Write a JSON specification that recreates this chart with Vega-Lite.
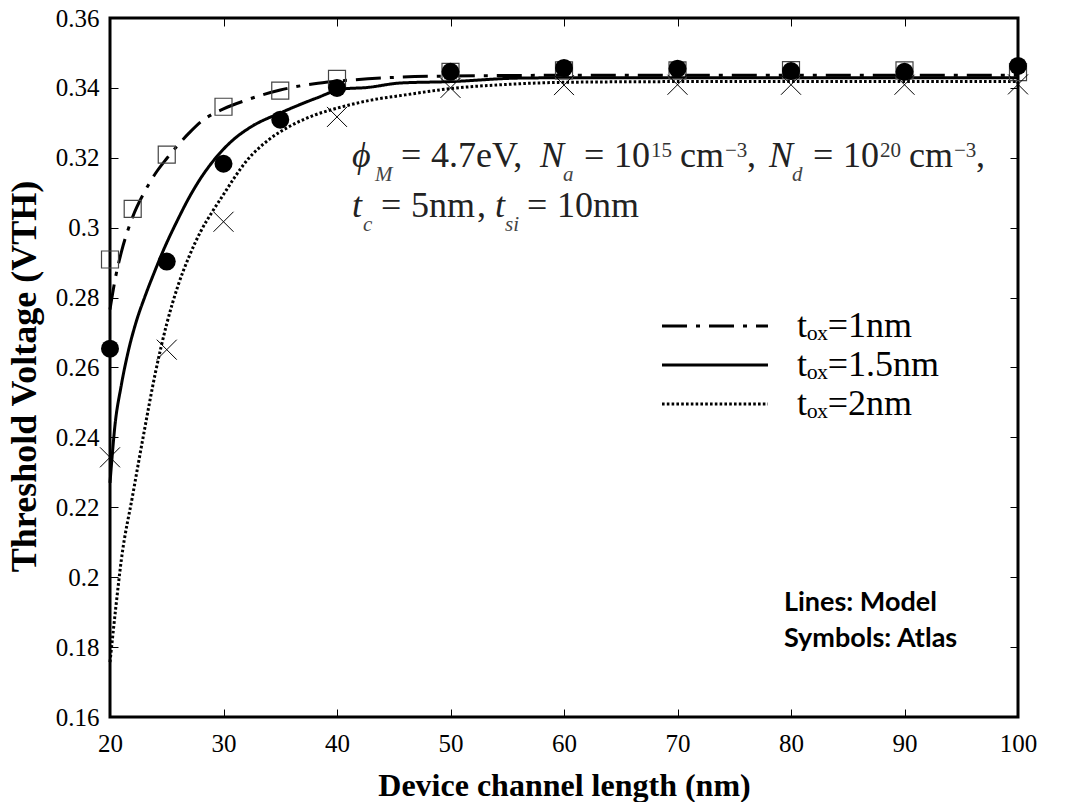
{
  "$schema": "https://vega.github.io/schema/vega-lite/v6.json",
  "width": 908,
  "height": 699,
  "autosize": {"type": "none"},
  "padding": {"left": 110, "top": 18, "right": 55, "bottom": 85},
  "background": "white",
  "config": {
    "view": {"stroke": "black", "strokeWidth": 3},
    "axis": {
      "domain": false,
      "grid": false,
      "tickSize": -8,
      "tickColor": "black",
      "tickWidth": 1,
      "labelFlush": false,
      "labelFont": "Liberation Serif",
      "labelFontSize": 25,
      "labelFontWeight": "normal",
      "labelColor": "black",
      "titleFont": "Liberation Serif",
      "titleFontSize": 32,
      "titleFontWeight": "bold",
      "titleColor": "black"
    }
  },
  "datasets": {
    "model": [
      {"L": 20, "V": 0.2766, "tox": "1nm"},
      {"L": 20.5, "V": 0.2860, "tox": "1nm"},
      {"L": 21, "V": 0.2930, "tox": "1nm"},
      {"L": 22, "V": 0.3031, "tox": "1nm"},
      {"L": 23, "V": 0.3100, "tox": "1nm"},
      {"L": 24, "V": 0.3155, "tox": "1nm"},
      {"L": 25, "V": 0.3198, "tox": "1nm"},
      {"L": 26, "V": 0.3237, "tox": "1nm"},
      {"L": 27, "V": 0.3272, "tox": "1nm"},
      {"L": 28, "V": 0.3303, "tox": "1nm"},
      {"L": 30, "V": 0.3340, "tox": "1nm"},
      {"L": 32, "V": 0.3365, "tox": "1nm"},
      {"L": 35, "V": 0.3394, "tox": "1nm"},
      {"L": 38, "V": 0.3412, "tox": "1nm"},
      {"L": 40, "V": 0.3419, "tox": "1nm"},
      {"L": 45, "V": 0.3430, "tox": "1nm"},
      {"L": 50, "V": 0.3434, "tox": "1nm"},
      {"L": 60, "V": 0.3436, "tox": "1nm"},
      {"L": 100, "V": 0.3436, "tox": "1nm"},
      {"L": 20, "V": 0.2270, "tox": "1.5nm"},
      {"L": 20.2, "V": 0.2350, "tox": "1.5nm"},
      {"L": 20.4, "V": 0.2423, "tox": "1.5nm"},
      {"L": 21, "V": 0.2550, "tox": "1.5nm"},
      {"L": 21.6, "V": 0.2645, "tox": "1.5nm"},
      {"L": 22.3, "V": 0.2730, "tox": "1.5nm"},
      {"L": 23.1, "V": 0.2805, "tox": "1.5nm"},
      {"L": 24, "V": 0.2880, "tox": "1.5nm"},
      {"L": 24.7, "V": 0.2935, "tox": "1.5nm"},
      {"L": 26, "V": 0.3025, "tox": "1.5nm"},
      {"L": 27, "V": 0.3088, "tox": "1.5nm"},
      {"L": 27.9, "V": 0.3137, "tox": "1.5nm"},
      {"L": 29.4, "V": 0.3203, "tox": "1.5nm"},
      {"L": 30.8, "V": 0.3250, "tox": "1.5nm"},
      {"L": 32.3, "V": 0.3286, "tox": "1.5nm"},
      {"L": 35.2, "V": 0.3331, "tox": "1.5nm"},
      {"L": 38.2, "V": 0.3371, "tox": "1.5nm"},
      {"L": 40.5, "V": 0.3397, "tox": "1.5nm"},
      {"L": 42.6, "V": 0.3401, "tox": "1.5nm"},
      {"L": 45.6, "V": 0.3414, "tox": "1.5nm"},
      {"L": 50, "V": 0.3418, "tox": "1.5nm"},
      {"L": 56, "V": 0.3428, "tox": "1.5nm"},
      {"L": 60, "V": 0.3429, "tox": "1.5nm"},
      {"L": 100, "V": 0.3429, "tox": "1.5nm"},
      {"L": 20, "V": 0.1757, "tox": "2nm"},
      {"L": 20.5, "V": 0.1910, "tox": "2nm"},
      {"L": 21, "V": 0.2050, "tox": "2nm"},
      {"L": 22, "V": 0.2235, "tox": "2nm"},
      {"L": 23, "V": 0.2415, "tox": "2nm"},
      {"L": 24, "V": 0.2585, "tox": "2nm"},
      {"L": 25, "V": 0.2725, "tox": "2nm"},
      {"L": 26, "V": 0.2835, "tox": "2nm"},
      {"L": 27, "V": 0.2920, "tox": "2nm"},
      {"L": 28, "V": 0.2990, "tox": "2nm"},
      {"L": 29, "V": 0.3045, "tox": "2nm"},
      {"L": 30, "V": 0.3095, "tox": "2nm"},
      {"L": 31, "V": 0.3145, "tox": "2nm"},
      {"L": 32, "V": 0.3190, "tox": "2nm"},
      {"L": 34, "V": 0.3252, "tox": "2nm"},
      {"L": 36, "V": 0.3293, "tox": "2nm"},
      {"L": 38, "V": 0.3322, "tox": "2nm"},
      {"L": 40, "V": 0.3342, "tox": "2nm"},
      {"L": 43, "V": 0.3365, "tox": "2nm"},
      {"L": 46, "V": 0.3380, "tox": "2nm"},
      {"L": 50, "V": 0.3398, "tox": "2nm"},
      {"L": 55, "V": 0.3410, "tox": "2nm"},
      {"L": 60, "V": 0.3416, "tox": "2nm"},
      {"L": 70, "V": 0.3418, "tox": "2nm"},
      {"L": 100, "V": 0.3418, "tox": "2nm"}
    ],
    "atlas": [
      {"L": 20, "V": 0.2909, "tox": "1nm"},
      {"L": 22, "V": 0.3054, "tox": "1nm"},
      {"L": 25, "V": 0.3209, "tox": "1nm"},
      {"L": 30, "V": 0.3346, "tox": "1nm"},
      {"L": 35, "V": 0.3392, "tox": "1nm"},
      {"L": 40, "V": 0.3426, "tox": "1nm"},
      {"L": 50, "V": 0.3446, "tox": "1nm"},
      {"L": 60, "V": 0.3450, "tox": "1nm"},
      {"L": 70, "V": 0.3450, "tox": "1nm"},
      {"L": 80, "V": 0.3451, "tox": "1nm"},
      {"L": 90, "V": 0.3450, "tox": "1nm"},
      {"L": 100, "V": 0.3445, "tox": "1nm"},
      {"L": 20, "V": 0.2654, "tox": "1.5nm"},
      {"L": 25, "V": 0.2903, "tox": "1.5nm"},
      {"L": 30, "V": 0.3183, "tox": "1.5nm"},
      {"L": 35, "V": 0.3309, "tox": "1.5nm"},
      {"L": 40, "V": 0.3400, "tox": "1.5nm"},
      {"L": 50, "V": 0.3446, "tox": "1.5nm"},
      {"L": 60, "V": 0.3457, "tox": "1.5nm"},
      {"L": 70, "V": 0.3455, "tox": "1.5nm"},
      {"L": 80, "V": 0.3448, "tox": "1.5nm"},
      {"L": 90, "V": 0.3446, "tox": "1.5nm"},
      {"L": 100, "V": 0.3463, "tox": "1.5nm"},
      {"L": 20, "V": 0.2343, "tox": "2nm"},
      {"L": 25, "V": 0.2651, "tox": "2nm"},
      {"L": 30, "V": 0.3017, "tox": "2nm"},
      {"L": 40, "V": 0.3317, "tox": "2nm"},
      {"L": 50, "V": 0.3400, "tox": "2nm"},
      {"L": 60, "V": 0.3408, "tox": "2nm"},
      {"L": 70, "V": 0.3409, "tox": "2nm"},
      {"L": 80, "V": 0.3409, "tox": "2nm"},
      {"L": 90, "V": 0.3409, "tox": "2nm"},
      {"L": 100, "V": 0.3410, "tox": "2nm"}
    ],
    "notes": [
      {"L": 41.322, "V": 0.317429, "t": "ϕ", "role": "var"},
      {"L": 43.348, "V": 0.313429, "t": "M", "role": "sub"},
      {"L": 45.639, "V": 0.317429, "t": "=", "role": "txt"},
      {"L": 48.282, "V": 0.317429, "t": "4.7eV,", "role": "txt"},
      {"L": 57.885, "V": 0.317429, "t": "N", "role": "var"},
      {"L": 59.912, "V": 0.313429, "t": "a", "role": "sub"},
      {"L": 61.762, "V": 0.317429, "t": "=", "role": "txt"},
      {"L": 64.405, "V": 0.317429, "t": "10", "role": "txt"},
      {"L": 67.665, "V": 0.320286, "t": "15", "role": "sup"},
      {"L": 70.220, "V": 0.317429, "t": "cm", "role": "txt"},
      {"L": 74.185, "V": 0.320286, "t": "−3", "role": "sup"},
      {"L": 76.123, "V": 0.317429, "t": ",", "role": "txt"},
      {"L": 78.062, "V": 0.317429, "t": "N", "role": "var"},
      {"L": 80.088, "V": 0.313429, "t": "d", "role": "sub"},
      {"L": 81.938, "V": 0.317429, "t": "=", "role": "txt"},
      {"L": 84.581, "V": 0.317429, "t": "10", "role": "txt"},
      {"L": 87.841, "V": 0.320286, "t": "20", "role": "sup"},
      {"L": 90.396, "V": 0.317429, "t": "cm", "role": "txt"},
      {"L": 94.361, "V": 0.320286, "t": "−3", "role": "sup"},
      {"L": 96.300, "V": 0.317429, "t": ",", "role": "txt"},
      {"L": 41.322, "V": 0.303143, "t": "t", "role": "var"},
      {"L": 42.291, "V": 0.299143, "t": "c", "role": "sub"},
      {"L": 43.877, "V": 0.303143, "t": "=", "role": "txt"},
      {"L": 46.520, "V": 0.303143, "t": "5nm", "role": "txt"},
      {"L": 52.335, "V": 0.303143, "t": ",", "role": "txt"},
      {"L": 53.921, "V": 0.303143, "t": "t", "role": "var"},
      {"L": 54.802, "V": 0.299143, "t": "si", "role": "sub"},
      {"L": 56.740, "V": 0.303143, "t": "=", "role": "txt"},
      {"L": 59.383, "V": 0.303143, "t": "10nm", "role": "txt"}
    ],
    "caption": [
      {"L": 79.38, "V": 0.19029, "t": "Lines: Model"},
      {"L": 79.38, "V": 0.18, "t": "Symbols: Atlas"}
    ]
  },
  "resolve": {"axis": {"x": "independent", "y": "independent"}},
  "layer": [
    {
      "layer": [
        {
          "data": {"name": "model"},
          "mark": {"type": "line", "color": "black", "strokeWidth": 3, "interpolate": "monotone"},
          "encoding": {
            "x": {
              "field": "L", "type": "quantitative",
              "scale": {"domain": [20, 100], "nice": false, "zero": false},
              "axis": {"values": [20, 30, 40, 50, 60, 70, 80, 90, 100], "title": "Device channel length (nm)", "labelPadding": 22, "titlePadding": 14}
            },
            "y": {
              "field": "V", "type": "quantitative",
              "scale": {"domain": [0.16, 0.36], "nice": false, "zero": false},
              "axis": {"values": [0.16, 0.18, 0.2, 0.22, 0.24, 0.26, 0.28, 0.3, 0.32, 0.34, 0.36], "format": ".2~f", "title": "Threshold Voltage (VTH)", "titleFontSize": 36, "titleY": 358, "labelPadding": 19, "titlePadding": 12}
            },
            "detail": {"field": "tox"},
            "strokeDash": {
              "field": "tox", "type": "nominal",
              "scale": {"domain": ["1nm", "1.5nm", "2nm"], "range": [[25, 9, 4, 9], [1, 0], [2.6, 2.2]]},
              "legend": {
                "orient": "none", "legendX": 587, "legendY": 290, "title": null, "padding": 0,
                "symbolType": "M-4,0H4", "symbolSize": 702, "symbolStrokeWidth": 3, "symbolStrokeColor": "black", "symbolFillColor": "transparent",
                "labelFont": "Liberation Serif", "labelFontSize": 36, "labelColor": "black", "labelOffset": 64,
                "rowPadding": 3,
                "labelExpr": "'tₒₓ=' + datum.label"
              }
            }
          }
        },
        {
          "data": {"name": "atlas"},
          "transform": [{"filter": "datum.tox == '1nm'"}],
          "mark": {"type": "point", "shape": "square", "filled": false, "stroke": "#444", "strokeWidth": 1.2, "size": 289, "opacity": 1},
          "encoding": {"x": {"field": "L", "type": "quantitative"}, "y": {"field": "V", "type": "quantitative"}}
        },
        {
          "data": {"name": "atlas"},
          "transform": [{"filter": "datum.tox == '1.5nm'"}],
          "mark": {"type": "point", "shape": "circle", "filled": true, "fill": "black", "size": 324, "opacity": 1},
          "encoding": {"x": {"field": "L", "type": "quantitative"}, "y": {"field": "V", "type": "quantitative"}}
        },
        {
          "data": {"name": "atlas"},
          "transform": [{"filter": "datum.tox == '2nm'"}],
          "mark": {"type": "point", "shape": "M-1,-1L1,1M-1,1L1,-1", "filled": false, "stroke": "black", "strokeWidth": 1, "size": 400, "opacity": 1},
          "encoding": {"x": {"field": "L", "type": "quantitative"}, "y": {"field": "V", "type": "quantitative"}}
        },
        {
          "data": {"name": "notes"},
          "transform": [{"filter": "datum.role == 'var'"}],
          "mark": {"type": "text", "align": "left", "baseline": "alphabetic", "font": "Liberation Serif", "fontStyle": "italic", "fontSize": 36, "color": "#222"},
          "encoding": {"x": {"field": "L", "type": "quantitative"}, "y": {"field": "V", "type": "quantitative"}, "text": {"field": "t"}}
        },
        {
          "data": {"name": "notes"},
          "transform": [{"filter": "datum.role == 'sub'"}],
          "mark": {"type": "text", "align": "left", "baseline": "alphabetic", "font": "Liberation Serif", "fontStyle": "italic", "fontSize": 21, "color": "#444"},
          "encoding": {"x": {"field": "L", "type": "quantitative"}, "y": {"field": "V", "type": "quantitative"}, "text": {"field": "t"}}
        },
        {
          "data": {"name": "notes"},
          "transform": [{"filter": "datum.role == 'sup'"}],
          "mark": {"type": "text", "align": "left", "baseline": "alphabetic", "font": "Liberation Serif", "fontSize": 21, "color": "#333"},
          "encoding": {"x": {"field": "L", "type": "quantitative"}, "y": {"field": "V", "type": "quantitative"}, "text": {"field": "t"}}
        },
        {
          "data": {"name": "notes"},
          "transform": [{"filter": "datum.role == 'txt'"}],
          "mark": {"type": "text", "align": "left", "baseline": "alphabetic", "font": "Liberation Serif", "fontSize": 36, "color": "#222"},
          "encoding": {"x": {"field": "L", "type": "quantitative"}, "y": {"field": "V", "type": "quantitative"}, "text": {"field": "t"}}
        },
        {
          "data": {"name": "caption"},
          "mark": {"type": "text", "align": "left", "baseline": "alphabetic", "font": "Lato", "fontWeight": "bold", "fontSize": 27, "color": "black"},
          "encoding": {"x": {"field": "L", "type": "quantitative"}, "y": {"field": "V", "type": "quantitative"}, "text": {"field": "t"}}
        }
      ]
    },
    {
      "data": {"name": "atlas"},
      "mark": {"type": "point", "opacity": 0},
      "encoding": {
        "x": {"field": "L", "type": "quantitative", "axis": {"orient": "top", "values": [20, 30, 40, 50, 60, 70, 80, 90, 100], "labels": false, "title": null}},
        "y": {"field": "V", "type": "quantitative", "axis": {"orient": "right", "values": [0.16, 0.18, 0.2, 0.22, 0.24, 0.26, 0.28, 0.3, 0.32, 0.34, 0.36], "labels": false, "title": null}}
      }
    }
  ]
}
